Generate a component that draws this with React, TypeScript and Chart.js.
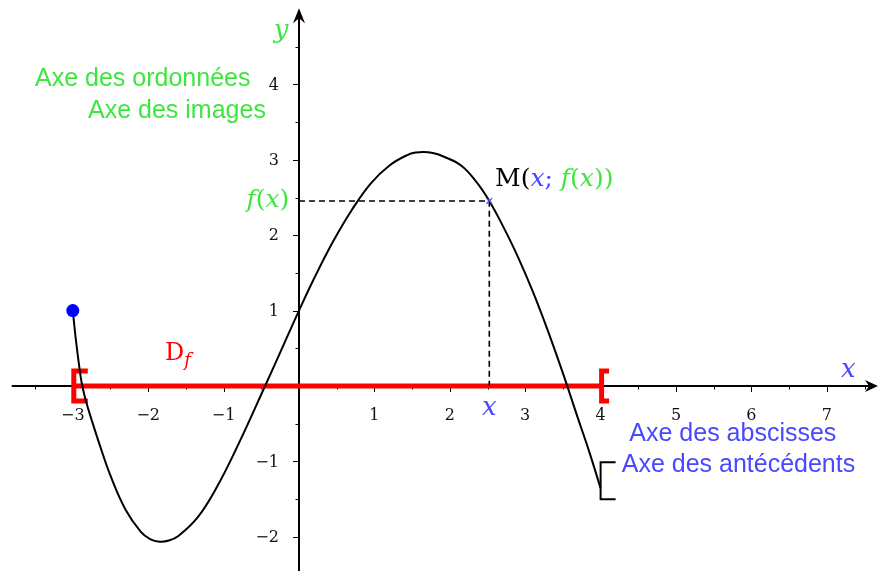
import React, { useEffect, useRef } from "react";
import { Chart, registerables } from "chart.js";

Chart.register(...registerables);

// ---------- data ----------
const curveX = [-3.0, -2.96, -2.92, -2.88, -2.82, -2.75, -2.64, -2.5, -2.3, -2.1, -1.975, -1.85, -1.725, -1.6, -1.35, -1.1, -0.8, -0.45, -0.2, 0.0, 0.2, 0.45, 0.7, 0.95, 1.2, 1.45, 1.55, 1.65, 1.775, 1.9, 2.15, 2.35, 2.524, 2.7, 2.9, 3.1, 3.3, 3.5, 3.7, 3.85, 4.0];
const curveY = [1.0, 0.62, 0.3, 0.03, -0.22, -0.45, -0.79, -1.19, -1.64, -1.93, -2.03, -2.065, -2.05, -1.99, -1.75, -1.36, -0.765, 0.0, 0.556, 1.0, 1.425, 1.912, 2.334, 2.685, 2.925, 3.07, 3.096, 3.105, 3.09, 3.05, 2.925, 2.71, 2.454, 2.13, 1.72, 1.255, 0.735, 0.17, -0.43, -0.874, -1.357];
const startPoint = { x: -3, y: 1 };
const domain = [-3, 4];
const pointM = { x: 2.524, y: 2.454 };
const bracketYs = [-1.012, -1.503];

const xTicks = [-3, -2, -1, 1, 2, 3, 4, 5, 6, 7];
const xTickLabels = ["−3", "−2", "−1", "1", "2", "3", "4", "5", "6", "7"];
const yTicks = [-2, -1, 1, 2, 3, 4];
const yTickLabels = ["−2", "−1", "1", "2", "3", "4"];
const xMinorTicks = [-3.5, -2.5, -1.5, -0.5, 0.5, 1.5, 2.5, 3.5, 4.5, 5.5, 6.5, 7.5];
const yMinorTicks = [-1.5, -0.5, 0.5, 1.5, 2.5, 3.5, 4.5];

const xView = [-3.9655, 7.679];
const yView = [-2.4536, 5.1194];
const xAxisSpan = [-3.81, 7.679];
const yAxisSpan = [-2.46, 5.01];

// ---------- styles ----------
const GREEN = "#3ee63e";
const BLUE = "#4848ff";
const RED = "#ff0000";
const SERIF = "'DejaVu Serif', serif";
const SANS = "'Liberation Sans', Arial, sans-serif";

type Part = { t: string; font: string; color: string; dy?: number };

function drawRich(ctx: CanvasRenderingContext2D, parts: Part[], x: number, y: number, align: string) {
  let w = 0;
  for (const p of parts) {
    ctx.font = p.font;
    w += ctx.measureText(p.t).width;
  }
  let cx = align === "right" ? x - w : align === "center" ? x - w / 2 : x;
  ctx.textAlign = "left";
  ctx.textBaseline = "alphabetic";
  for (const p of parts) {
    ctx.font = p.font;
    ctx.fillStyle = p.color;
    ctx.fillText(p.t, cx, y + (p.dy || 0));
    cx += ctx.measureText(p.t).width;
  }
}

const up = (s: number) => `${s}px ${SERIF}`;
const it = (s: number) => `italic ${s}px ${SERIF}`;

const labels: { parts: Part[]; at: [number, number]; align: string }[] = [
  { parts: [{ t: "Axe des ordonnées", font: `25px ${SANS}`, color: GREEN }], at: [-3.501, 3.979], align: "left" },
  { parts: [{ t: "Axe des images", font: `25px ${SANS}`, color: GREEN }], at: [-2.798, 3.548], align: "left" },
  { parts: [{ t: "Axe des abscisses", font: `25px ${SANS}`, color: BLUE }], at: [4.381, -0.729], align: "left" },
  { parts: [{ t: "Axe des antécédents", font: `25px ${SANS}`, color: BLUE }], at: [4.28, -1.145], align: "left" },
  { parts: [{ t: "y", font: it(26), color: GREEN }], at: [-0.239, 4.615], align: "center" },
  { parts: [{ t: "x", font: it(26), color: BLUE }], at: [7.285, 0.123], align: "center" },
  { parts: [{ t: "x", font: it(26), color: BLUE }], at: [pointM.x, -0.385], align: "center" },
  {
    parts: [
      { t: "f", font: it(25), color: GREEN },
      { t: "(", font: up(25), color: GREEN },
      { t: "x", font: it(25), color: GREEN },
      { t: ")", font: up(25), color: GREEN },
    ],
    at: [-0.129, 2.37],
    align: "right",
  },
  {
    parts: [
      { t: "M(", font: up(25), color: "#000" },
      { t: "x", font: it(25), color: BLUE },
      { t: "; ", font: up(25), color: BLUE },
      { t: "f", font: it(25), color: GREEN },
      { t: "(", font: up(25), color: GREEN },
      { t: "x", font: it(25), color: GREEN },
      { t: "))", font: up(25), color: GREEN },
    ],
    at: [2.6, 2.657],
    align: "left",
  },
  {
    parts: [
      { t: "D", font: up(24), color: RED },
      { t: "f", font: it(18), color: RED, dy: 6 },
    ],
    at: [-1.777, 0.345],
    align: "left",
  },
];

const overlay = {
  id: "overlay",
  beforeDatasetsDraw(chart: any) {
    const ctx: CanvasRenderingContext2D = chart.ctx;
    const xs = chart.scales.x;
    const ys = chart.scales.y;
    const X = (v: number) => xs.getPixelForValue(v);
    const Y = (v: number) => ys.getPixelForValue(v);
    const x0 = X(0);
    const y0 = Y(0);
    ctx.save();
    ctx.strokeStyle = "#000";
    ctx.fillStyle = "#000";
    ctx.lineWidth = 2;
    // x axis
    const xe = X(xAxisSpan[1]);
    ctx.beginPath();
    ctx.moveTo(X(xAxisSpan[0]), y0);
    ctx.lineTo(xe - 6, y0);
    ctx.stroke();
    ctx.beginPath();
    ctx.moveTo(xe, y0);
    ctx.lineTo(xe - 13, y0 - 6);
    ctx.lineTo(xe - 9, y0);
    ctx.lineTo(xe - 13, y0 + 6);
    ctx.closePath();
    ctx.fill();
    // y axis
    const yt = Y(yAxisSpan[1]);
    ctx.beginPath();
    ctx.moveTo(x0, Y(yAxisSpan[0]));
    ctx.lineTo(x0, yt + 6);
    ctx.stroke();
    ctx.beginPath();
    ctx.moveTo(x0, yt);
    ctx.lineTo(x0 - 6, yt + 15);
    ctx.lineTo(x0, yt + 10);
    ctx.lineTo(x0 + 6, yt + 15);
    ctx.closePath();
    ctx.fill();
    // ticks
    ctx.lineWidth = 1;
    ctx.beginPath();
    for (const v of xTicks) {
      const px = Math.round(X(v)) + 0.5;
      ctx.moveTo(px, y0);
      ctx.lineTo(px, y0 + 6);
    }
    for (const v of xMinorTicks) {
      const px = Math.round(X(v)) + 0.5;
      ctx.moveTo(px, y0);
      ctx.lineTo(px, y0 + 3.5);
    }
    for (const v of yTicks) {
      const py = Math.round(Y(v)) + 0.5;
      ctx.moveTo(x0, py);
      ctx.lineTo(x0 - 6, py);
    }
    for (const v of yMinorTicks) {
      const py = Math.round(Y(v)) + 0.5;
      ctx.moveTo(x0, py);
      ctx.lineTo(x0 - 3.5, py);
    }
    ctx.stroke();
    // tick labels
    ctx.font = `16px ${SERIF}`;
    ctx.fillStyle = "#111";
    ctx.textAlign = "center";
    ctx.textBaseline = "alphabetic";
    xTicks.forEach((v, i) => ctx.fillText(xTickLabels[i], X(v), y0 + 34));
    ctx.textAlign = "right";
    ctx.textBaseline = "middle";
    yTicks.forEach((v, i) => ctx.fillText(yTickLabels[i], x0 - 20, Y(v) + 1));
    // domain brackets
    ctx.strokeStyle = RED;
    ctx.lineWidth = 5;
    ctx.lineJoin = "miter";
    ctx.lineCap = "butt";
    const flanges = [14, 7.5];
    domain.forEach((v, i) => {
      const bx = X(v) + 1;
      ctx.beginPath();
      ctx.moveTo(bx + flanges[i], y0 - 15);
      ctx.lineTo(bx, y0 - 15);
      ctx.lineTo(bx, y0 + 15);
      ctx.lineTo(bx + flanges[i], y0 + 15);
      ctx.stroke();
    });
    ctx.restore();
  },
  afterDatasetsDraw(chart: any) {
    const ctx: CanvasRenderingContext2D = chart.ctx;
    const xs = chart.scales.x;
    const ys = chart.scales.y;
    const X = (v: number) => xs.getPixelForValue(v);
    const Y = (v: number) => ys.getPixelForValue(v);
    ctx.save();
    // black bracket at the end of the curve
    const bx = X(domain[1]);
    ctx.strokeStyle = "#000";
    ctx.lineWidth = 2;
    ctx.beginPath();
    ctx.moveTo(bx + 15, Y(bracketYs[0]));
    ctx.lineTo(bx, Y(bracketYs[0]));
    ctx.lineTo(bx, Y(bracketYs[1]));
    ctx.lineTo(bx + 15, Y(bracketYs[1]));
    ctx.stroke();
    for (const l of labels) drawRich(ctx, l.parts, X(l.at[0]), Y(l.at[1]), l.align);
    ctx.restore();
  },
};

export default function App() {
  const ref = useRef<HTMLCanvasElement>(null);
  useEffect(() => {
    const chart = new Chart(ref.current as HTMLCanvasElement, {
      type: "scatter",
      data: {
        datasets: [
          {
            data: curveX.map((x, i) => ({ x, y: curveY[i] })),
            showLine: true,
            borderColor: "#000",
            borderWidth: 2,
            pointRadius: 0,
            tension: 0.4,
            order: 1,
          } as any,
          {
            data: [startPoint],
            pointRadius: 6.5,
            backgroundColor: "#0000ff",
            borderWidth: 0,
            order: 0,
          },
          {
            data: [pointM],
            pointStyle: "crossRot",
            pointRadius: 4,
            borderColor: BLUE,
            borderWidth: 1.2,
            order: 0,
          },
          {
            data: [
              { x: 0, y: pointM.y },
              { x: pointM.x, y: pointM.y },
              { x: pointM.x, y: 0 },
            ],
            showLine: true,
            borderColor: "#000",
            borderWidth: 1.6,
            borderDash: [6, 4],
            pointRadius: 0,
            order: 3,
          },
          {
            data: [
              { x: domain[0], y: 0 },
              { x: domain[1], y: 0 },
            ],
            showLine: true,
            borderColor: RED,
            borderWidth: 5,
            pointRadius: 0,
            order: 4,
          },
        ],
      },
      options: {
        animation: false,
        responsive: false,
        layout: { padding: 0, autoPadding: false },
        scales: {
          x: { type: "linear", min: xView[0], max: xView[1], display: false },
          y: { type: "linear", min: yView[0], max: yView[1], display: false },
        },
        plugins: { legend: { display: false }, tooltip: { enabled: false } },
      },
      plugins: [overlay],
    });
    return () => chart.destroy();
  }, []);
  return (
    <div style={{ position: "fixed", left: 0, top: 0, width: 878, height: 571, background: "#fff" }}>
      <canvas ref={ref} width={878} height={571} style={{ display: "block", width: 878, height: 571 }} />
    </div>
  );
}
